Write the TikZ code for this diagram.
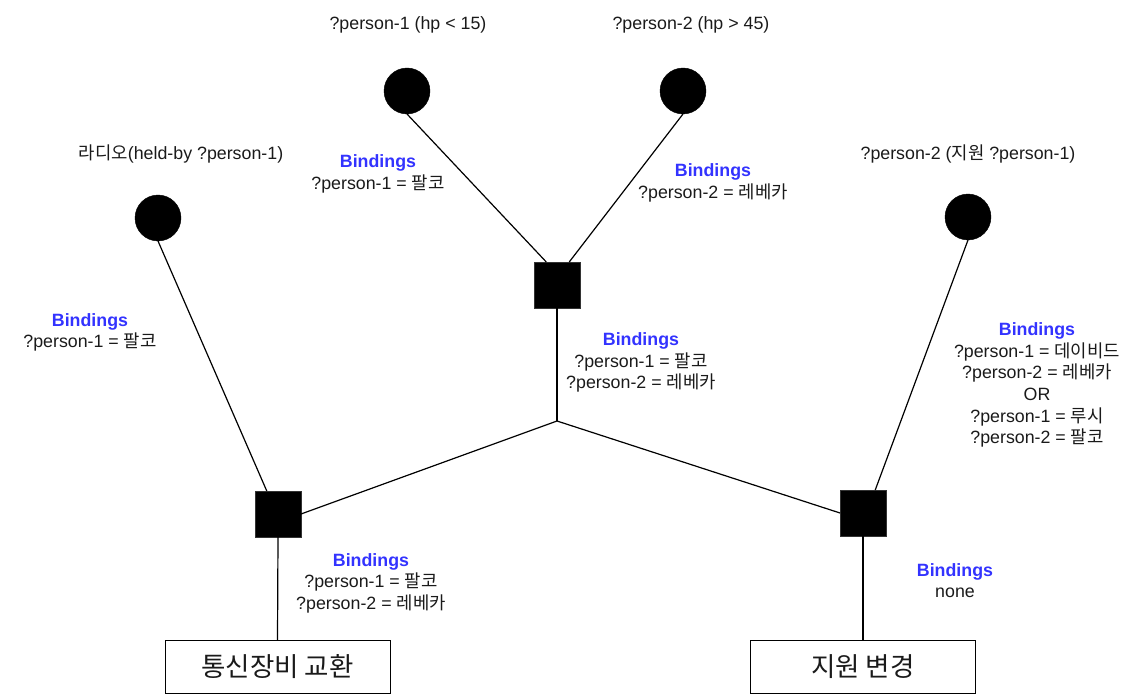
\documentclass[tikz,border=0pt]{standalone}
\usepackage{fontspec}
\setmainfont{Liberation Sans}
\newfontfamily\kr{Noto Sans CJK KR}
\definecolor{bindblue}{HTML}{3333FF}
\definecolor{txt}{HTML}{1A1A1A}
\begin{document}
\begin{tikzpicture}[x=1pt,y=-1pt,
  dot/.style={circle,fill=black,draw=black,minimum size=46pt,inner sep=0pt,outer sep=0pt},
  sq/.style={rectangle,fill=black,draw=black!80,minimum size=46pt,inner sep=0pt,outer sep=0pt},
  goalbox/.style={rectangle,draw=black,line width=1pt,minimum width=225pt,minimum height=53pt,inner sep=0pt,outer sep=0pt,font=\fontsize{26.5}{30}\selectfont\kr,text=txt},
  lbl/.style={align=center,inner sep=0pt,text=txt,font=\fontsize{17.8}{21.6}\selectfont},
  conn/.style={draw=black,line width=1.2pt}
]
\useasboundingbox (0,0) rectangle (1143,695);
% nodes
\node[dot] (c1) at (158,218) {};
\node[dot] (c2) at (407,91) {};
\node[dot] (c3) at (683,91) {};
\node[dot] (c4) at (968,217) {};
\node[sq] (s0) at (557,285) {};
\node[sq] (s1) at (278,514) {};
\node[sq] (s2) at (863,513) {};
\coordinate (j) at (557,421);
\node[goalbox] (b1) at (277.5,666.5) {통신장비 교환};
\node[goalbox] (b2) at (863,666.5) {지원 변경};
% connectors
\draw[conn] (c2.south) -- (s0.115.6);
\draw[conn] (c3.south) -- (s0.62.4);
\draw[conn] (c1.south) -- (s1.116);
\draw[conn] (c4.south) -- (s2.62);
\draw[conn] (s0.south) -- (j);
\draw[conn] (j) -- (s1.east);
\draw[conn] (j) -- (s2.west);
\draw[conn] (s1.south) -- (b1.north);
\draw[conn] (s2.south) -- (b2.north);
% condition labels
\node[lbl] (t1) at (181,154) {{\kr 라디오}(held-by ?person-1)};
\node[lbl] (t2) at (408,25) {?person-1 (hp < 15)};
\node[lbl] (t3) at (691,25) {?person-2 (hp > 45)};
\node[lbl] (t4) at (968,154) {?person-2 ({\kr 지원} ?person-1)};
% binding labels
\node[lbl] (bd1) at (90,332.5) {{\bfseries\color{bindblue}Bindings}\\?person-1 = {\kr 팔코}};
\node[lbl] (bd2) at (378,174) {{\bfseries\color{bindblue}Bindings}\\?person-1 = {\kr 팔코}};
\node[lbl] (bd3) at (713,183) {{\bfseries\color{bindblue}Bindings}\\?person-2 = {\kr 레베카}};
\node[lbl] (bd4) at (641,362.5) {{\bfseries\color{bindblue}Bindings}\\?person-1 = {\kr 팔코}\\?person-2 = {\kr 레베카}};
\node[lbl] (bd5) at (1037,385) {{\bfseries\color{bindblue}Bindings}\\?person-1 = {\kr 데이비드}\\?person-2 = {\kr 레베카}\\OR\\?person-1 = {\kr 루시}\\?person-2 = {\kr 팔코}};
\node[lbl] (bd6) at (371,583) {{\bfseries\color{bindblue}Bindings}\\?person-1 = {\kr 팔코}\\?person-2 = {\kr 레베카}};
\node[lbl] (bd7) at (955,580.5) {{\bfseries\color{bindblue}Bindings}\\none};
\end{tikzpicture}
\end{document}
